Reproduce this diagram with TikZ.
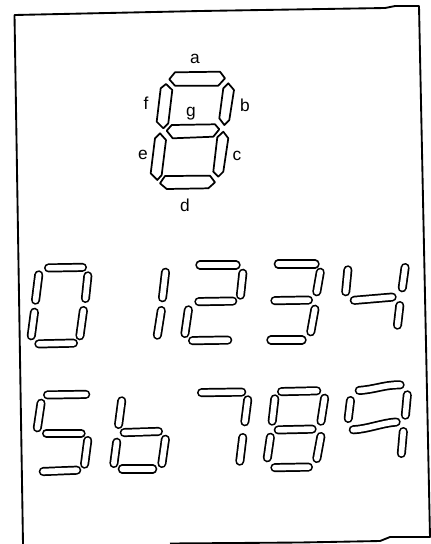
\documentclass[tikz,border=0pt]{standalone}
\usepackage{fontspec}
\setmainfont{Liberation Sans}
\tikzset{
  segbar/.style={line width=1.3pt,double=white,double distance=4.2pt,line cap=round,shorten >=3.4pt,shorten <=3.4pt},
  seghex/.style={line width=1.3pt,line join=round},
  seglabel/.style={inner sep=0pt,font=\fontsize{13}{15}\selectfont},
  frameline/.style={line width=1.4pt,line join=round}
}
\begin{document}
\begin{tikzpicture}[x=0.75pt,y=-0.75pt]
  \useasboundingbox (0,0) rectangle (431,544);
  % sheet edge
  \draw[frameline] (23,544) -- (14.5,15) -- (200,11) -- (385,8) -- (395,6) -- (419,6) -- (430,537)
    -- (390,537) -- (380,541) -- (300,542.5) -- (170,543.5);
  % key: the seven named segments
  \draw[seghex] (169.3,79.3) -- (175,72.3) -- (220,71.7) -- (225,78.3) -- (218.3,85.7) -- (175,85.7) -- cycle; % a
  \draw[seghex] (228.3,83.3) -- (234,90) -- (229.3,120) -- (224.3,125) -- (219.3,118.3) -- (223.3,88.3) -- cycle; % b
  \draw[seghex] (223.3,131.7) -- (228.3,138.3) -- (223.3,171.7) -- (218.3,176.7) -- (213.3,171.7) -- (217.3,137.3) -- cycle; % c
  \draw[seghex] (160,183.3) -- (165,176) -- (210,175.7) -- (215,182.3) -- (208.3,188.3) -- (166.7,189) -- cycle; % d
  \draw[seghex] (160,133.3) -- (166,140) -- (161.7,175) -- (157.3,180) -- (150.7,173.3) -- (155,138.3) -- cycle; % e
  \draw[seghex] (166,84) -- (172.3,90) -- (168.3,123.3) -- (163.3,128.3) -- (156.7,121.7) -- (160.7,88.3) -- cycle; % f
  \draw[seghex] (166.7,130.7) -- (171.7,125) -- (215,124.3) -- (219.3,129.3) -- (213.3,136.7) -- (172.7,138.3) -- cycle; % g
  \node[seglabel] (la) at (195,59) {a};
  \node[seglabel] (lb) at (245,105) {b};
  \node[seglabel] (lc) at (237,156) {c};
  \node[seglabel] (ld) at (185,205) {d};
  \node[seglabel] (le) at (143,155) {e};
  \node[seglabel] (lf) at (146,103) {f};
  \node[seglabel] (lg) at (191,114) {g};
  % top row of digits
  \foreach \xa/\ya/\xb/\yb in {44/268/87/267.3,39.3/270.3/35/304.7,88.3/271.3/85/303,35/307.7/30.7/340.3,84/306/79.3/340.3,34.3/344/78/343, % 0
    166/267.7/162/302.3,162/306/156.7/339.7, % 1
    195.3/265/240.7/265,243.3/268.7/240/299.7,194.3/301.7/237.3/301,189/305.3/184.3/338,188/340.7/232.3/340, % 2
    273.7/264/319.7/264,321/267.7/316/296.3,270.3/300.7/313/300,315.7/304.7/310/336.3,266.3/340/306.7/340, % 3
    348.3/265.3/345.3/296.3,405.7/263/401.7/292.3,349.7/300.7/396.7/296.7,400.3/301/397/329.7} % 4
    \draw[segbar] (\xa,\ya) -- (\xb,\yb);
  % bottom row of digits
  \foreach \xa/\ya/\xb/\yb in {43/395/90.3/394.3,41.7/398.7/36.7/432.3,42/433.3/85.7/433.3,88.3/436/84/468.7,38.7/471.7/81.3/470, % 5
    122.3/396.3/118/429,119.7/432.7/163/431.3,117.3/437.7/113.3/468,166/434.7/161.3/468,117.7/469/157.3/469, % 6
    197/392.7/246.3/392,248.3/395.3/244.3/426.3,243.3/433/239.3/465.7, % 7
    277/391.7/321.3/390.7,275.3/394.3/271.7/425.7,325.3/393.7/320.3/425.7,273.7/430/316.7/429,271/432.7/266.7/462.3,321.7/432/316/463,270.3/467.7/313/467, % 8
    351/396/347.7/423,407.7/390.3/405/419.7,403.7/427/401/458} % 9
    \draw[segbar] (\xa,\ya) -- (\xb,\yb);
  % the two bent bars of the 9
  \draw[segbar] (354.7,390.7) .. controls (375,389.5) and (385,384.5) .. (404.7,385);
  \draw[segbar] (348.7,430) .. controls (368,429) and (382,423) .. (400.7,421.7);
\end{tikzpicture}
\end{document}
